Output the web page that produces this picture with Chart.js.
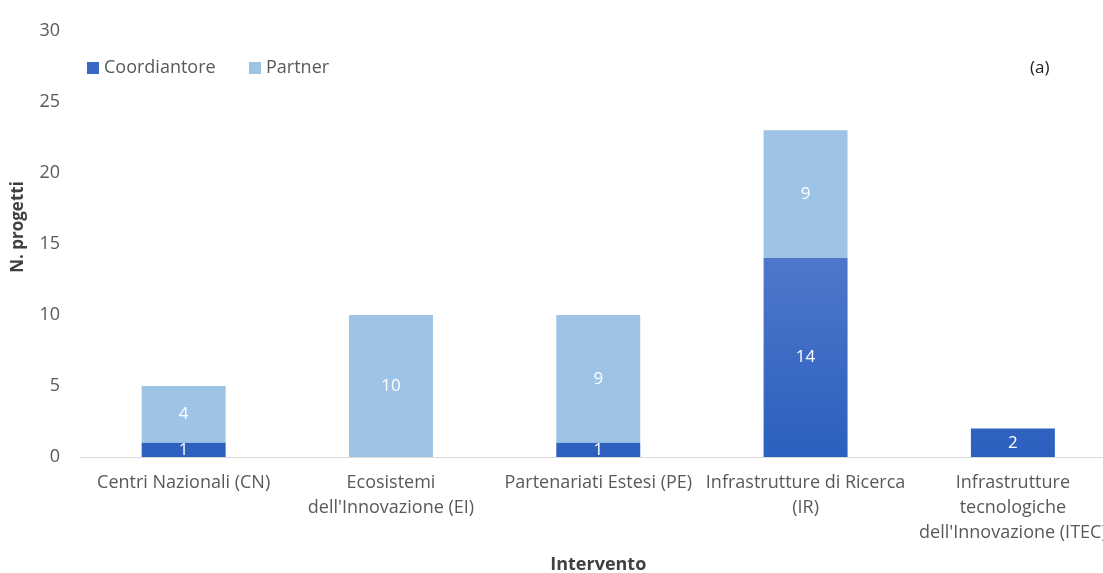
<!DOCTYPE html>
<html>
<head>
<meta charset="utf-8">
<script src="https://cdn.jsdelivr.net/npm/chart.js@4"></script>
<style>
  body { margin: 0; background: #fff; overflow: hidden; }
  #wrap { width: 1120px; height: 576px; }
</style>
</head>
<body>
<div id="wrap"><canvas id="chart"></canvas></div>
<script>
// dati
const categorie = [
  ["Centri Nazionali (CN)"],
  ["Ecosistemi", "dell'Innovazione (EI)"],
  ["Partenariati Estesi (PE)"],
  ["Infrastrutture di Ricerca", "(IR)"],
  ["Infrastrutture", "tecnologiche", "dell'Innovazione (ITEC)"]
];
const coordinatore = [1, 0, 1, 14, 2];
const partner = [4, 10, 9, 9, 0];
const yTicks = [0, 5, 10, 15, 20, 25, 30];

const FONT = "'Open Sans', sans-serif";
const GRIGIO = "#595959";

// gradiente per le barre del coordinatore
function coloreCoord(context) {
  const chart = context.chart;
  const area = chart.chartArea;
  if (!area) return "#3366c4";
  const g = chart.ctx.createLinearGradient(0, area.top, 0, area.bottom);
  g.addColorStop(0, "#7593d6");
  g.addColorStop(1, "#2c5fbf");
  return g;
}

// etichette dei valori dentro le barre
const etichettePlugin = {
  id: "etichette",
  afterDatasetsDraw(chart) {
    const ctx = chart.ctx;
    ctx.save();
    ctx.font = "17px " + FONT;
    ctx.fillStyle = "#ffffff";
    ctx.textAlign = "center";
    ctx.textBaseline = "middle";
    chart.data.datasets.forEach((ds, i) => {
      const meta = chart.getDatasetMeta(i);
      meta.data.forEach((bar, j) => {
        const v = ds.data[j];
        if (!v) return;
        ctx.fillText(String(v), bar.x, (bar.y + bar.base) / 2);
      });
    });
    ctx.restore();
  }
};

// legenda in alto a sinistra, "(a)" e titolo asse y
const legendaPlugin = {
  id: "legenda",
  afterDraw(chart) {
    const ctx = chart.ctx;
    ctx.save();
    ctx.font = "18px " + FONT;
    ctx.textBaseline = "middle";
    const y = 68;
    const posizioni = [87, 249];
    chart.data.datasets.forEach((ds, i) => {
      const x = posizioni[i];
      ctx.fillStyle = ds.legendColor;
      ctx.fillRect(x, y - 6, 12, 12);
      ctx.fillStyle = GRIGIO;
      ctx.textAlign = "left";
      ctx.fillText(ds.label, x + 17, y);
    });
    ctx.font = "17px " + FONT;
    ctx.fillStyle = "#222222";
    ctx.fillText("(a)", 1030, y);

    // titolo asse y
    ctx.translate(18, 227);
    ctx.rotate(-Math.PI / 2);
    ctx.font = "bold 17px " + FONT;
    ctx.fillStyle = "#404040";
    ctx.textAlign = "center";
    ctx.fillText("N. progetti", 0, 0);
    ctx.restore();
  }
};

new Chart(document.getElementById("chart"), {
  type: "bar",
  data: {
    labels: categorie,
    datasets: [
      {
        label: "Coordiantore",
        data: coordinatore,
        backgroundColor: coloreCoord,
        legendColor: "#3a68c4",
        barPercentage: 0.405,
        categoryPercentage: 1
      },
      {
        label: "Partner",
        data: partner,
        backgroundColor: "#9dc3e6",
        legendColor: "#9dc3e6",
        barPercentage: 0.405,
        categoryPercentage: 1
      }
    ]
  },
  options: {
    responsive: true,
    maintainAspectRatio: false,
    animation: false,
    layout: { padding: { top: 26, left: 9, right: 3, bottom: 0 } },
    plugins: {
      legend: { display: false },
      tooltip: { enabled: false }
    },
    scales: {
      x: {
        stacked: true,
        grid: { display: false, drawTicks: false },
        border: { display: true, color: "#d9d9d9", width: 1 },
        ticks: {
          color: GRIGIO,
          font: { family: FONT, size: 18, lineHeight: 1.4 },
          padding: 13,
          maxRotation: 0,
          autoSkip: false
        },
        title: {
          display: true,
          text: "Intervento",
          color: "#404040",
          font: { family: FONT, size: 18, weight: "bold" },
          padding: { top: 2, bottom: 0 }
        },
        afterFit(scale) { scale.height = 119; }
      },
      y: {
        stacked: true,
        min: 0,
        max: 30,
        grid: { display: false, drawTicks: false },
        border: { display: false },
        afterBuildTicks(scale) { scale.ticks = yTicks.map(v => ({ value: v })); },
        ticks: {
          color: GRIGIO,
          font: { family: FONT, size: 18 },
          padding: 20
        },
        title: { display: false },
        afterFit(scale) { scale.width = 71; }
      }
    }
  },
  plugins: [etichettePlugin, legendaPlugin]
});
</script>
</body>
</html>
